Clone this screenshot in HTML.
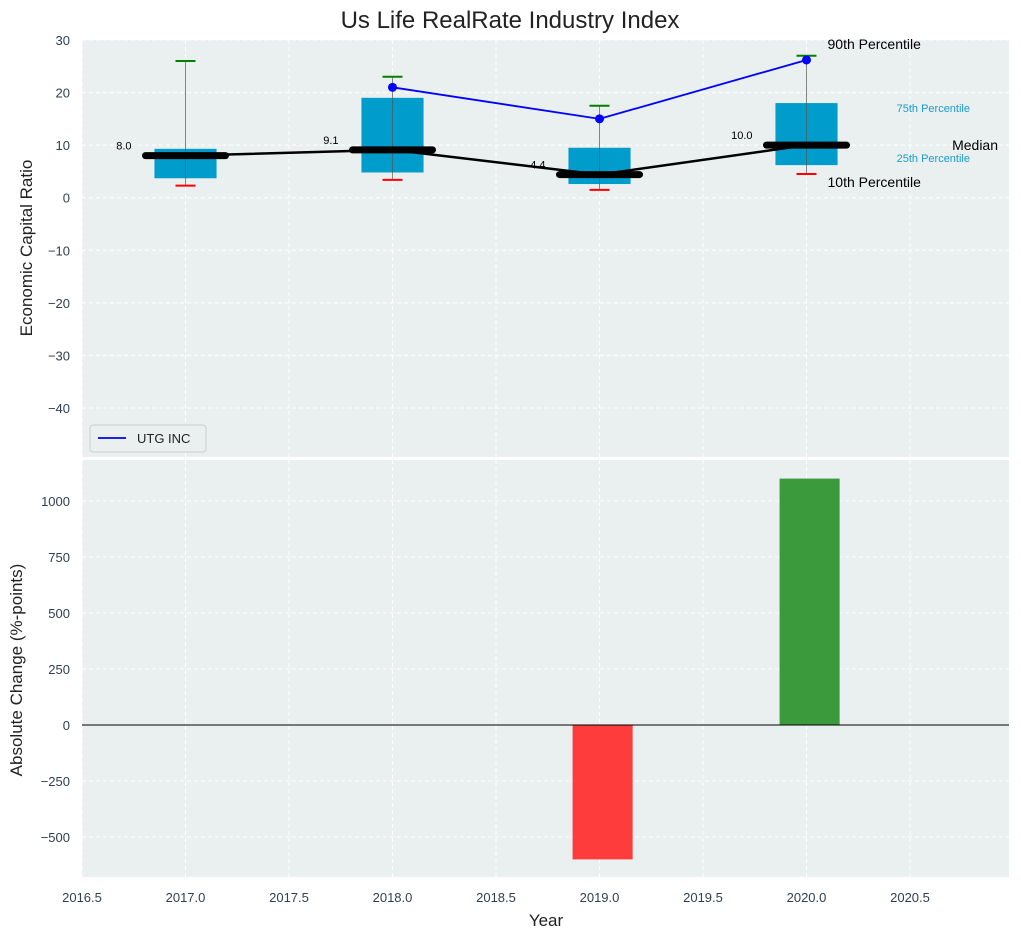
<!DOCTYPE html>
<html><head><meta charset="utf-8"><style>
body{margin:0;background:#fff;font-family:"Liberation Sans",sans-serif}
svg text{font-family:"Liberation Sans",sans-serif}
</style></head><body>
<svg id="c" width="1021" height="940" xmlns="http://www.w3.org/2000/svg"></svg>
<script>
const years=[2017,2018,2019,2020];
const p10=[2.3,3.4,1.5,4.5];
const q1=[3.7,4.8,2.6,6.2];
const med=[8.0,9.1,4.4,10.0];
const q3=[9.3,19.0,9.5,18.0];
const p90=[26.0,23.0,17.5,27.0];
const utgYears=[2018,2019,2020];
const utgVals=[21.0,15.0,26.2];
const chgYears=[2019,2020];
const chgVals=[-600,1100];
const xTicks=[2016.5,2017,2017.5,2018,2018.5,2019,2019.5,2020,2020.5];
const yTopTicks=[30,20,10,0,-10,-20,-30,-40];
const yBotTicks=[1000,750,500,250,0,-250,-500];

const S=document.getElementById('c'),NS='http://www.w3.org/2000/svg';
function mk(t,a,p){const e=document.createElementNS(NS,t);for(const k in a)e.setAttribute(k,a[k]);(p||S).appendChild(e);return e;}
const X=v=>82+(v-2016.5)*207;
const YT=v=>40+(30-v)*5.257;
const YB=v=>725-v*0.224;
const L=82,R=1009;

let e=mk('rect',{x:L,y:40,width:R-L,height:417,fill:'#eaeff0'});

e=mk('rect',{x:L,y:460,width:R-L,height:417,fill:'#eaeff0'});


xTicks.forEach(t=>{
 mk('line',{x1:X(t),x2:X(t),y1:40,y2:457,stroke:'#fff','stroke-dasharray':'4,3'});
 mk('line',{x1:X(t),x2:X(t),y1:460,y2:877,stroke:'#fff','stroke-dasharray':'4,3'});
 e=mk('text',{x:X(t),y:902,'text-anchor':'middle','font-size':13,fill:'#2e3f50'});e.textContent=t.toFixed(1);
 
});
yTopTicks.forEach(t=>{
 mk('line',{x1:L,x2:R,y1:YT(t),y2:YT(t),stroke:'#fff','stroke-dasharray':'4,3'});
 e=mk('text',{x:70,y:YT(t)+5,'text-anchor':'end','font-size':13,fill:'#2e3f50'});e.textContent=t<0?'\u2212'+(-t):t;
 
});
yBotTicks.forEach(t=>{
 mk('line',{x1:L,x2:R,y1:YB(t),y2:YB(t),stroke:'#fff','stroke-dasharray':'4,3'});
 e=mk('text',{x:70,y:YB(t)+5,'text-anchor':'end','font-size':13,fill:'#2e3f50'});e.textContent=t<0?'\u2212'+(-t):t;
 
});

years.forEach((y,i)=>{
 const cx=X(y),hw=0.15*207;
 e=mk('rect',{x:cx-hw,y:YT(q3[i]),width:2*hw,height:YT(q1[i])-YT(q3[i]),fill:'#009ccc'});
 
 mk('line',{x1:cx,x2:cx,y1:YT(p90[i]),y2:YT(p10[i]),stroke:'#555','stroke-width':1,opacity:0.7});
 e=mk('line',{x1:cx-10,x2:cx+10,y1:YT(p90[i]),y2:YT(p90[i]),stroke:'green','stroke-width':2});
 
 e=mk('line',{x1:cx-10,x2:cx+10,y1:YT(p10[i]),y2:YT(p10[i]),stroke:'red','stroke-width':2});
 
});
e=mk('polyline',{points:years.map((y,i)=>X(y)+','+YT(med[i])).join(' '),fill:'none',stroke:'#000','stroke-width':2.5});

years.forEach((y,i)=>{
 const cx=X(y);
 e=mk('line',{x1:cx-40,x2:cx+40,y1:YT(med[i]),y2:YT(med[i]),stroke:'#000','stroke-width':7,'stroke-linecap':'round'});
 
 e=mk('text',{x:cx-54,y:YT(med[i])-6,'text-anchor':'end','font-size':11,fill:'#000'});e.textContent=med[i].toFixed(1);
 
});
e=mk('polyline',{points:utgYears.map((y,i)=>X(y)+','+YT(utgVals[i])).join(' '),fill:'none',stroke:'blue','stroke-width':1.8});

utgYears.forEach((y,i)=>{e=mk('circle',{cx:X(y),cy:YT(utgVals[i]),r:4.5,fill:'blue'});
 });

const li=years.length-1,ax=X(years[li]);
[['90th Percentile',ax+21,YT(p90[li])-7,14,'#000','start'],['10th Percentile',ax+21,YT(p10[li])+13,14,'#000','start'],
 ['Median',998,YT(med[li])+5,14,'#000','end'],['75th Percentile',970,112,11,'#1a9ccc','end'],['25th Percentile',970,162,11,'#1a9ccc','end']]
.forEach(a=>{e=mk('text',{x:a[1],y:a[2],'font-size':a[3],fill:a[4],'text-anchor':a[5]});e.textContent=a[0];
 });

const lg=mk('g',{});
mk('rect',{x:90,y:425,width:116,height:27,rx:3,fill:'#eaeff0',stroke:'#ccc'},lg);
mk('line',{x1:98,x2:126,y1:438,y2:438,stroke:'blue','stroke-width':1.8},lg);
e=mk('text',{x:137,y:443,'font-size':13,fill:'#222'},lg);e.textContent='UTG INC';

chgYears.forEach((y,i)=>{
 const v=chgVals[i],x0=X(y-0.13),x1=X(y+0.16);
 e=mk('rect',{x:x0,y:Math.min(YB(v),YB(0)),width:x1-x0,height:Math.abs(YB(v)-YB(0)),fill:v<0?'#ff3c3c':'#3a9a3c'});
 
});
mk('line',{x1:L,x2:R,y1:YB(0),y2:YB(0),stroke:'#000','stroke-width':1});

[['Us Life RealRate Industry Index',510,28,24,0,'chart-title'],['Year',546,926,17,0,'x-axis-title']].forEach(a=>{
 e=mk('text',{x:a[1],y:a[2],'font-size':a[3],'text-anchor':'middle',fill:'#222'});e.textContent=a[0];
 });
e=mk('text',{x:0,y:0,'font-size':17,'text-anchor':'middle',fill:'#222',transform:'translate(32,248) rotate(-90)'});e.textContent='Economic Capital Ratio';

e=mk('text',{x:0,y:0,'font-size':17,'text-anchor':'middle',fill:'#222',transform:'translate(22,670) rotate(-90)'});e.textContent='Absolute Change (%-points)';

</script>
</body></html>
